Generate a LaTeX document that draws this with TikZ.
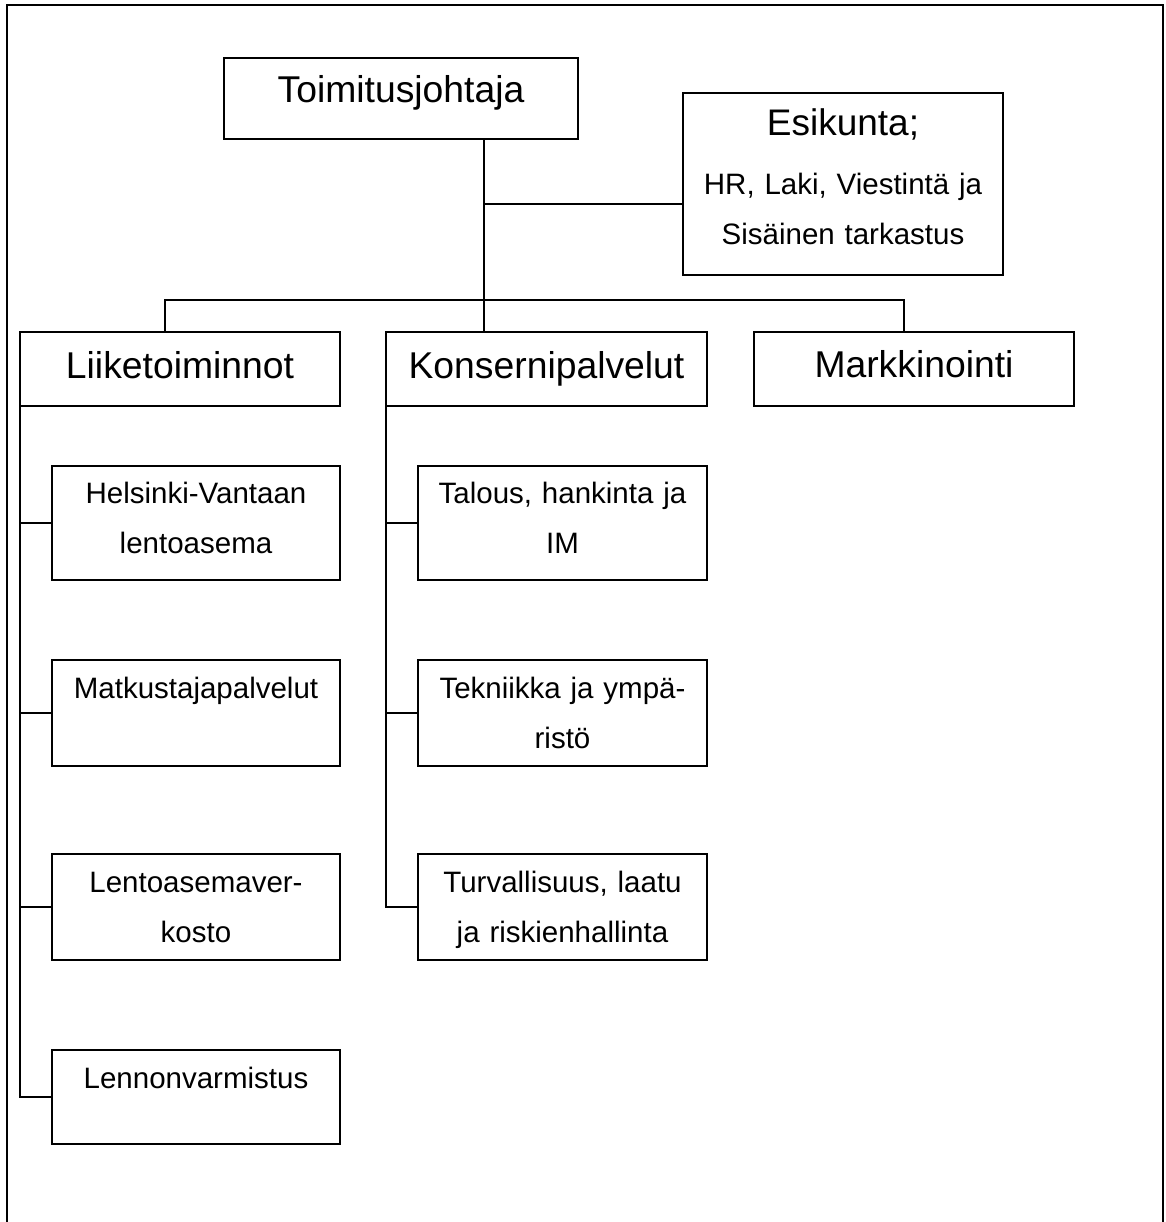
\documentclass[tikz,border=0pt]{standalone}
\usepackage{fontspec}
\setmainfont{Liberation Sans}

\tikzset{
  laatikko/.style={draw, line width=1.8pt, inner sep=0pt, outer sep=0pt, anchor=north west, align=center},
  iso/.style={laatikko, font=\fontsize{37.3}{44}\selectfont},
  pieni/.style={laatikko, font=\fontsize{29.5}{50}\selectfont},
  viiva/.style={line width=1.8pt}
}

\begin{document}
\begin{tikzpicture}[x=1pt, y=-1pt]
\useasboundingbox (0,0) rectangle (1165,1222);
%kehys%
\draw[viiva] (7,1222) -- (7,5) -- (1163,5) -- (1163,1222);

%johto%
\node[iso, text width=354pt, text height=45pt, text depth=36pt] (toim) at (224,58) {Toimitusjohtaja};
\node[pieni, text width=320pt, text height=43pt, text depth=139pt] (esik) at (683,93) {{\fontsize{37}{44}\selectfont Esikunta;}\\[9pt] HR, Laki, Viestintä ja\\ Sisäinen tarkastus};

%yksikot%
\node[iso, text width=320pt, text height=46pt, text depth=28pt] (liike) at (20,332) {Liiketoiminnot};
\node[iso, text width=321pt, text height=46pt, text depth=28pt] (kons) at (386,332) {Konsernipalvelut};
\node[iso, text width=320pt, text height=45pt, text depth=29pt] (mark) at (754,332) {Markkinointi};

%liiketoiminnot%
\node[pieni, text width=288pt, text height=37pt, text depth=77pt] (hel) at (52,466) {Helsinki-Vantaan\\ lentoasema};
\node[pieni, text width=288pt, text height=38pt, text depth=68pt] (matk) at (52,660) {Matkustajapalvelut};
\node[pieni, text width=288pt, text height=38pt, text depth=68pt] (lent) at (52,854) {Lentoasemaver-\\ kosto};
\node[pieni, text width=288pt, text height=38pt, text depth=56pt] (lenn) at (52,1050) {Lennonvarmistus};

%konsernipalvelut%
\node[pieni, text width=289pt, text height=37pt, text depth=77pt] (tal) at (418,466) {Talous, hankinta ja\\ IM};
\node[pieni, text width=289pt, text height=38pt, text depth=68pt] (tek) at (418,660) {Tekniikka ja ympä-\\ ristö};
\node[pieni, text width=289pt, text height=38pt, text depth=68pt] (turv) at (418,854) {Turvallisuus, laatu\\ ja riskienhallinta};

%yhteydet%
\coordinate (runko) at (484,300);
\coordinate (haara) at (484,204);
\coordinate (vasen) at (165,300);
\coordinate (oikea) at (904,300);
\draw[viiva] (runko |- toim.south) -- (runko |- kons.north);
\draw[viiva] (haara) -- (haara -| esik.west);
\draw[viiva] (vasen |- liike.north) -- (vasen) -- (oikea) -- (oikea |- mark.north);

\draw[viiva] (liike.south west) |- (lenn.west);
\foreach \n in {hel,matk,lent}
  \draw[viiva] (liike.south west |- \n.west) -- (\n.west);
\draw[viiva] (kons.south west) |- (turv.west);
\foreach \n in {tal,tek}
  \draw[viiva] (kons.south west |- \n.west) -- (\n.west);
\end{tikzpicture}
\end{document}
